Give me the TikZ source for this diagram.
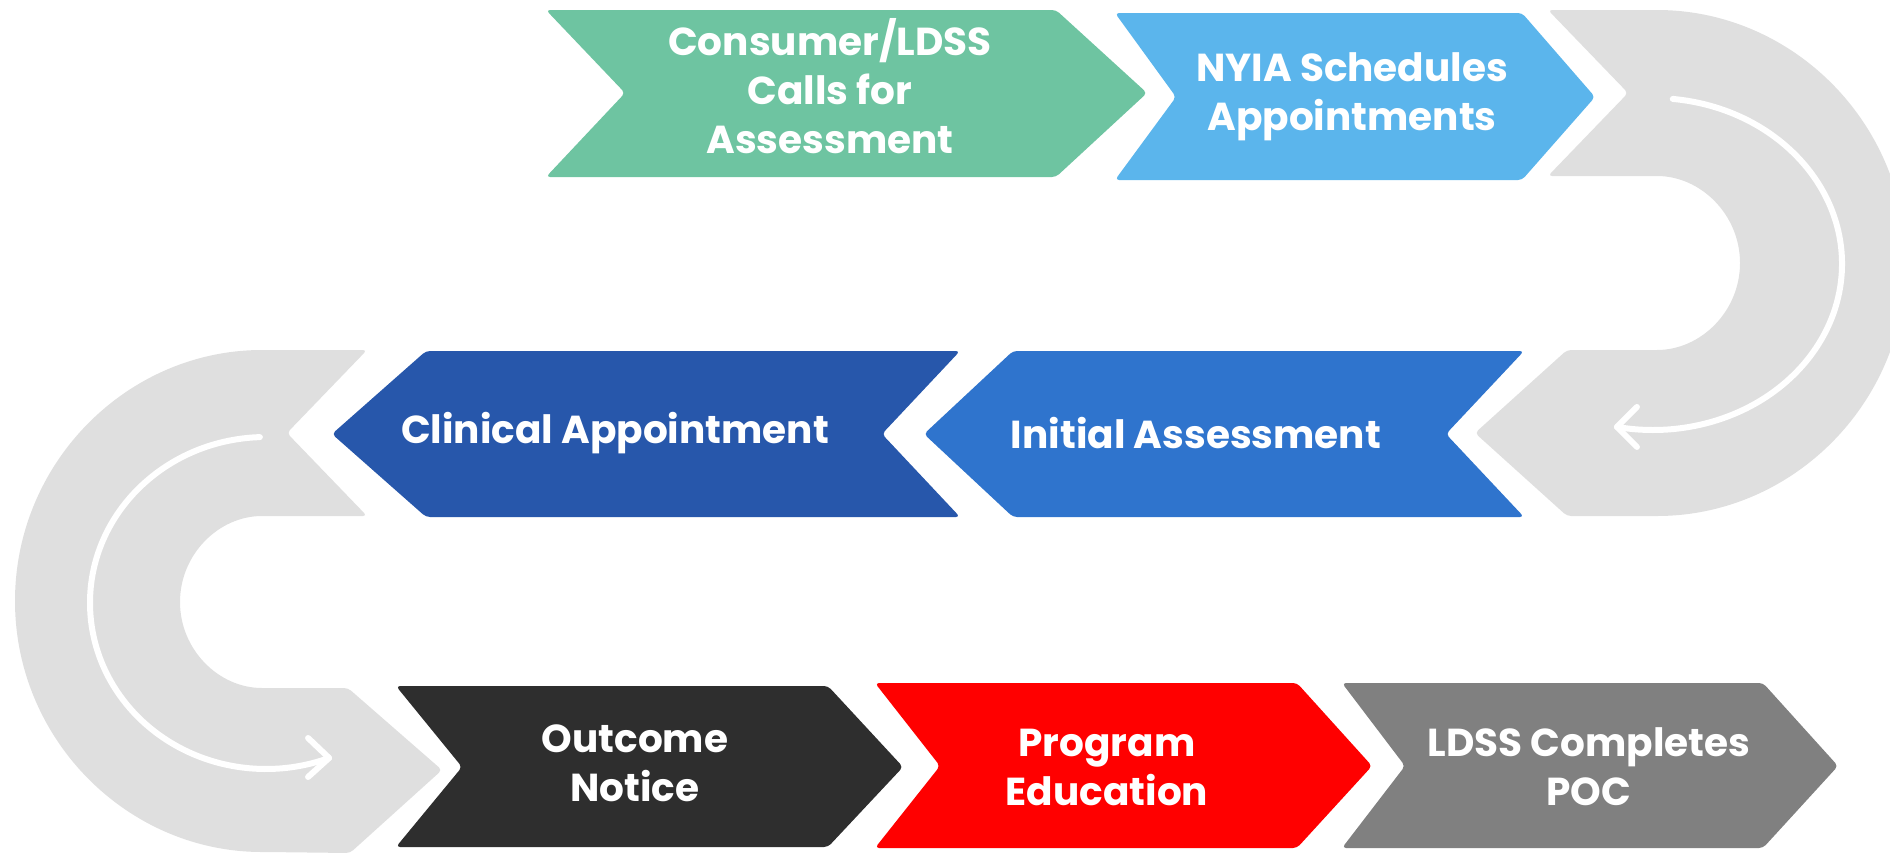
\documentclass[tikz,border=0pt]{standalone}
\usepackage{fontspec}
\setmainfont{Poppins}
\definecolor{cgreen}{HTML}{6EC4A1}
\definecolor{clblue}{HTML}{5BB5EC}
\definecolor{cdblue}{HTML}{2757AB}
\definecolor{cmblue}{HTML}{2F74CD}
\definecolor{cblack}{HTML}{2E2E2E}
\definecolor{cred}{HTML}{FF0000}
\definecolor{cgray}{HTML}{808080}
\definecolor{clgray}{HTML}{DFDFDF}
\tikzset{
  chev/.style={rounded corners=4pt},
  band/.style={fill=clgray, rounded corners=4pt},
  flowline/.style={draw=white, line width=6pt, line cap=round, line join=round},
  lbl/.style={text=white, font=\fontsize{39}{49}\selectfont\bfseries, align=center, inner sep=0pt}
}
\begin{document}
\begin{tikzpicture}[x=1pt,y=-1pt]
\useasboundingbox (0,0) rectangle (1890,854);
\clip (0,0) rectangle (1890,854);
% right U band
\fill[band] (1548,10) -- (1653,10) arc[start angle=-90, end angle=90, radius=253]
  -- (1567,516) -- (1475,433) -- (1567,350) -- (1653,350)
  arc[start angle=90, end angle=-90, radius=87]
  -- (1548,176) -- (1628,93) -- cycle;
% left C band
\fill[band] (367,350) -- (266,350) arc[start angle=-90, end angle=-270, radius=251]
  -- (350,853) -- (442,770) -- (348,688) -- (266,688)
  arc[start angle=90, end angle=270, radius=86]
  -- (367,516) -- (287,433) -- cycle;
% white flow arrows
\draw[flowline] (1653,264) ++(-84:189 and 166) coordinate (us)
  arc[start angle=-84, end angle=101, x radius=189, y radius=166] coordinate (ue);
\draw[flowline] ([shift={(20,-20)}]ue) -- (ue) -- ([shift={(20,20)}]ue);
\draw[flowline] (266,603) ++(-92:176 and 166) coordinate (cs)
  arc[start angle=-92, end angle=-291, x radius=176, y radius=166] coordinate (ce);
\draw[flowline] ([shift={(-21,-20)}]ce) -- (ce) -- ([shift={(-21,19)}]ce);
% chevrons
\fill[chev, cgreen] (546,10) -- (1056,10) -- (1147,93) -- (1056,177) -- (546,177) -- (625,93) -- cycle;
\fill[chev, clblue] (1115,13) -- (1522,13) -- (1595,97) -- (1522,180) -- (1115,180) -- (1176,97) -- cycle;
\fill[chev, cdblue] (426,351) -- (960,351) -- (882,434) -- (960,517) -- (426,517) -- (332,434) -- cycle;
\fill[chev, cmblue] (1013,351) -- (1524,351) -- (1446,434) -- (1524,517) -- (1013,517) -- (924,434) -- cycle;
\fill[chev, cblack] (396,686) -- (828,686) -- (903,767) -- (828,847) -- (396,847) -- (462,767) -- cycle;
\fill[chev, cred] (875,683) -- (1297,683) -- (1372,766) -- (1297,848) -- (875,848) -- (940,766) -- cycle;
\fill[chev, cgray] (1342,683) -- (1763,683) -- (1838,766) -- (1763,848) -- (1342,848) -- (1405,766) -- cycle;
% labels
\node[lbl] (t1) at (830,86) {Consumer/LDSS\\Calls for\\Assessment};
\node[lbl] (t2) at (1352,97) {NYIA Schedules\\Appointments};
\node[lbl] (t3) at (1196,433) {Initial Assessment};
\node[lbl] (t4) at (615,433) {Clinical Appointment};
\node[lbl] (t5) at (635,763) {Outcome\\Notice};
\node[lbl] (t6) at (1107,767) {Program\\Education};
\node[lbl] (t7) at (1589,767) {LDSS Completes\\POC};
\end{tikzpicture}
\end{document}
